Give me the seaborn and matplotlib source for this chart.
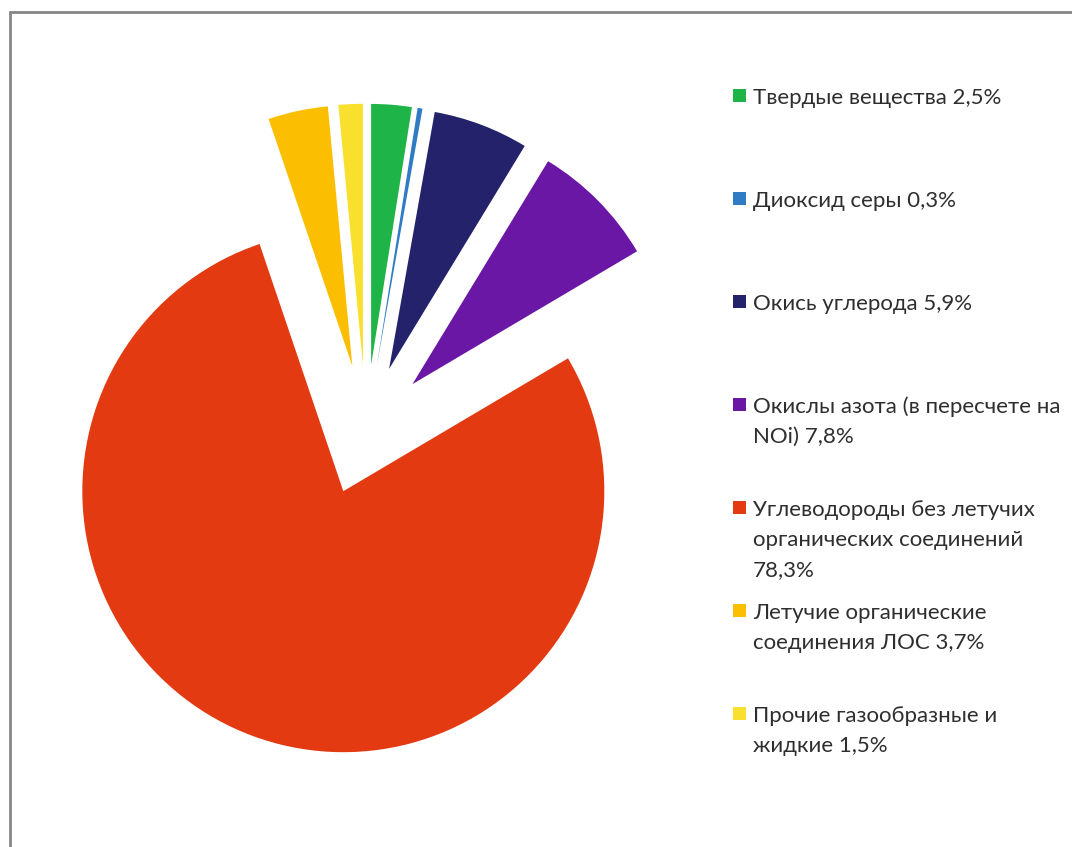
import matplotlib
matplotlib.use("Agg")
import matplotlib.pyplot as plt
import seaborn as sns
from matplotlib.patches import Rectangle
from matplotlib.lines import Line2D

categories = [
    "Твердые вещества 2,5%",
    "Диоксид серы 0,3%",
    "Окись углерода 5,9%",
    "Окислы азота (в пересчете на\nNOi) 7,8%",
    "Углеводороды без летучих\nорганических соединений\n78,3%",
    "Летучие органические\nсоединения ЛОС 3,7%",
    "Прочие газообразные и\nжидкие 1,5%",
]
shares = [2.5, 0.3, 5.9, 7.8, 78.3, 3.7, 1.5]
colors = ["#1FB447", "#2F7CC5", "#24226B", "#6A17A5", "#E33A12", "#FBBE00", "#FAE02E"]

sns.set_theme(style="white")
plt.rcParams["font.family"] = ["Lato", "DejaVu Sans"]

W, H = 1072, 847
fig = plt.figure(figsize=(W / 100, H / 100), dpi=100)

# pie centre and radius in pixels (from top-left)
cx, cy, rad = 366, 430, 261
lim = 1.4
left = (cx - lim * rad) / W
bottom = (H - cy - lim * rad) / H
ax = fig.add_axes([left, bottom, 2 * lim * rad / W, 2 * lim * rad / H])
ax.pie(shares, colors=colors, startangle=90, counterclock=False,
       explode=[0.25] * len(shares), wedgeprops=dict(linewidth=0))
ax.set_xlim(-lim, lim)
ax.set_ylim(-lim, lim)
ax.set_aspect("equal")
ax.axis("off")

# legend, drawn entry by entry so first lines are evenly spaced
y0, step, line_h = 96, 102.9, 30
for i, (lab, col) in enumerate(zip(categories, colors)):
    yc = y0 + i * step
    fig.patches.append(Rectangle((733 / W, 1 - (yc + 6.5) / H), 13 / W, 13 / H,
                                 transform=fig.transFigure, facecolor=col, edgecolor="none"))
    for k, line in enumerate(lab.split("\n")):
        fig.text(753 / W, 1 - (yc + 8.5 + k * line_h) / H, line, ha="left",
                 va="baseline", fontsize=16, color="#2e2e2e")

# chart frame (cut off at right and bottom)
fig.lines.append(Line2D([10 / W, 10 / W], [0, 1 - 12 / H], transform=fig.transFigure,
                        color="#868686", linewidth=2))
fig.lines.append(Line2D([10 / W, 1], [1 - 12 / H, 1 - 12 / H], transform=fig.transFigure,
                        color="#868686", linewidth=2))

fig.savefig("out.png", dpi=100)
